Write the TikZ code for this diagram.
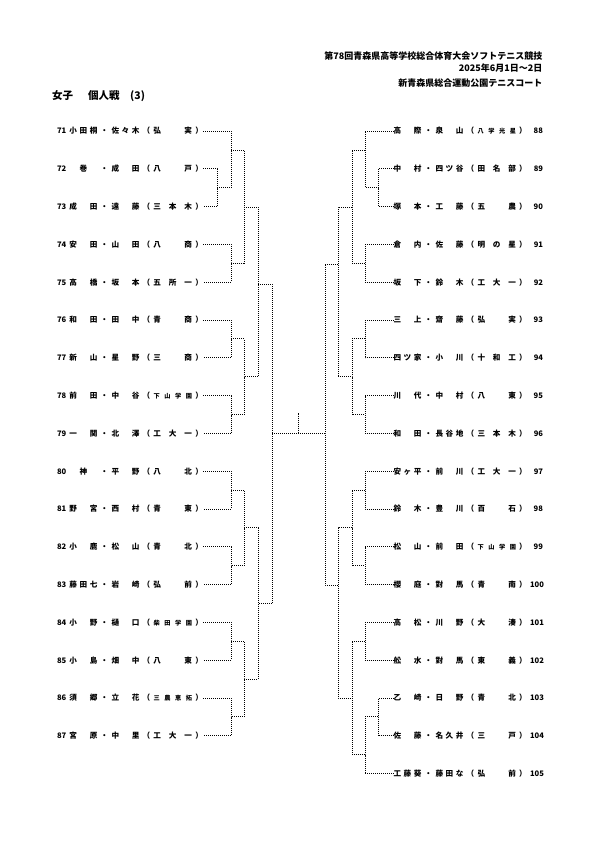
\documentclass[tikz,border=0pt]{standalone}
\usepackage{fontspec}
\setmainfont{Noto Sans CJK JP}
\tikzset{
  br/.style={line width=0.95pt, dash pattern=on 0.95pt off 1.05pt},
  ent/.style={inner sep=0pt, outer sep=0pt, font=\fontsize{7.6}{8}\selectfont\bfseries},
  hdr/.style={inner sep=0pt, anchor=east, font=\fontsize{9}{10}\selectfont\bfseries},
  ttl/.style={inner sep=0pt, anchor=west, font=\fontsize{10.5}{12}\selectfont\bfseries},
}
\def\distB#1#2{#1\ifx#2\relax\else\hfill\expandafter\distB\expandafter#2\fi}
\newcommand\dist[2]{\hbox to #1{\distB#2\relax}}
\newcommand\Nm[1]{\dist{28pt}{#1}}
\newcommand\Ne[1]{\hbox to 28pt{\hfil#1\hfil}}
\newcommand\Sc[1]{\dist{38.5pt}{#1}}
\newcommand\Sf[1]{{\fontsize{6.2}{6.5}\selectfont\dist{38.5pt}{#1}}}
\newcommand\Lrow[6]{\node[ent, anchor=west] (#1) at (57,#2) {\hbox to 12.5pt{#3\hfil}#4\hbox to 14pt{\hfil・\hfil}#5\hbox to 14pt{\hfil（\hfil}#6\hbox to 11pt{\hfil）}};}
\newcommand\Rrow[6]{\node[ent, anchor=west] (#1) at (393.5,#2) {#4\hbox to 14pt{\hfil・\hfil}#5\hbox to 14pt{\hfil（\hfil}#6\hbox to 14pt{\hfil）\hfil}\hbox to 13pt{\hfil#3}};}
\begin{document}
\begin{tikzpicture}[x=1pt,y=-1pt]
\useasboundingbox (0,0) rectangle (595,842);
% header
\node[hdr] (h1) at (542.5,55.7) {第78回青森県高等学校総合体育大会ソフトテニス競技};
\node[hdr] (h2) at (542.5,68.5) {2025年6月1日～2日};
\node[hdr] (h3) at (542.5,82.7) {新青森県総合運動公園テニスコート};
\node[ttl] (t1) at (52,96) {女子};
\node[ttl] (t2) at (88,96) {個人戦};
\node[ttl] (t3) at (130,96) {(3)};
% left entries
\Lrow{p71}{131.0}{71}{\Nm{小田桐}}{\Nm{佐々木}}{\Sc{弘実}}
\Lrow{p72}{168.8}{72}{\Ne{巻}}{\Nm{成田}}{\Sc{八戸}}
\Lrow{p73}{206.6}{73}{\Nm{成田}}{\Nm{遠藤}}{\Sc{三本木}}
\Lrow{p74}{244.4}{74}{\Nm{安田}}{\Nm{山田}}{\Sc{八商}}
\Lrow{p75}{282.2}{75}{\Nm{高橋}}{\Nm{坂本}}{\Sc{五所一}}
\Lrow{p76}{320.0}{76}{\Nm{和田}}{\Nm{田中}}{\Sc{青商}}
\Lrow{p77}{357.8}{77}{\Nm{新山}}{\Nm{星野}}{\Sc{三商}}
\Lrow{p78}{395.6}{78}{\Nm{前田}}{\Nm{中谷}}{\Sf{下山学園}}
\Lrow{p79}{433.4}{79}{\Nm{一関}}{\Nm{北澤}}{\Sc{工大一}}
\Lrow{p80}{471.2}{80}{\Ne{神}}{\Nm{平野}}{\Sc{八北}}
\Lrow{p81}{509.0}{81}{\Nm{野宮}}{\Nm{西村}}{\Sc{青東}}
\Lrow{p82}{546.8}{82}{\Nm{小鹿}}{\Nm{松山}}{\Sc{青北}}
\Lrow{p83}{584.6}{83}{\Nm{藤田七}}{\Nm{岩崎}}{\Sc{弘前}}
\Lrow{p84}{622.4}{84}{\Nm{小野}}{\Nm{樋口}}{\Sf{柴田学園}}
\Lrow{p85}{660.2}{85}{\Nm{小島}}{\Nm{畑中}}{\Sc{八東}}
\Lrow{p86}{698.0}{86}{\Nm{須郷}}{\Nm{立花}}{\Sf{三農恵拓}}
\Lrow{p87}{735.8}{87}{\Nm{宮原}}{\Nm{中里}}{\Sc{工大一}}
% right entries
\Rrow{p88}{131.0}{88}{\Nm{高際}}{\Nm{泉山}}{\Sf{八学光星}}
\Rrow{p89}{168.8}{89}{\Nm{中村}}{\Nm{四ツ谷}}{\Sc{田名部}}
\Rrow{p90}{206.6}{90}{\Nm{塚本}}{\Nm{工藤}}{\Sc{五農}}
\Rrow{p91}{244.4}{91}{\Nm{倉内}}{\Nm{佐藤}}{\Sc{明の星}}
\Rrow{p92}{282.2}{92}{\Nm{坂下}}{\Nm{鈴木}}{\Sc{工大一}}
\Rrow{p93}{320.0}{93}{\Nm{三上}}{\Nm{齋藤}}{\Sc{弘実}}
\Rrow{p94}{357.8}{94}{\Nm{四ツ家}}{\Nm{小川}}{\Sc{十和工}}
\Rrow{p95}{395.6}{95}{\Nm{川代}}{\Nm{中村}}{\Sc{八東}}
\Rrow{p96}{433.4}{96}{\Nm{和田}}{\Nm{長谷地}}{\Sc{三本木}}
\Rrow{p97}{471.2}{97}{\Nm{安ヶ平}}{\Nm{前川}}{\Sc{工大一}}
\Rrow{p98}{509.0}{98}{\Nm{鈴木}}{\Nm{豊川}}{\Sc{百石}}
\Rrow{p99}{546.8}{99}{\Nm{松山}}{\Nm{前田}}{\Sf{下山学園}}
\Rrow{p100}{584.6}{100}{\Nm{櫻庭}}{\Nm{對馬}}{\Sc{青南}}
\Rrow{p101}{622.4}{101}{\Nm{高松}}{\Nm{川野}}{\Sc{大湊}}
\Rrow{p102}{660.2}{102}{\Nm{舩水}}{\Nm{對馬}}{\Sc{東義}}
\Rrow{p103}{698.0}{103}{\Nm{乙崎}}{\Nm{日野}}{\Sc{青北}}
\Rrow{p104}{735.8}{104}{\Nm{佐藤}}{\Nm{名久井}}{\Sc{三戸}}
\Rrow{p105}{773.6}{105}{\Nm{工藤葵}}{\Nm{藤田な}}{\Sc{弘前}}
% left joints
\coordinate (j72) at (217,187.7);
\coordinate (j71) at (231,150.0);
\coordinate (j74) at (231,263.3);
\coordinate (ja)  at (244,207.0);
\coordinate (j76) at (231,338.9);
\coordinate (j78) at (231,414.5);
\coordinate (jb)  at (244,376.7);
\coordinate (jc)  at (258,284.0);
\coordinate (j80) at (231,490.1);
\coordinate (j82) at (231,565.7);
\coordinate (jd)  at (244,527.9);
\coordinate (j84) at (231,641.3);
\coordinate (j86) at (231,716.9);
\coordinate (je)  at (244,679.1);
\coordinate (jf)  at (258,603.5);
\coordinate (jL)  at (272,433.4);
% right joints
\coordinate (k89) at (378,187.7);
\coordinate (k88) at (365,150.0);
\coordinate (k91) at (365,263.3);
\coordinate (ka)  at (352,207.0);
\coordinate (k93) at (365,338.9);
\coordinate (k95) at (365,414.5);
\coordinate (kb)  at (352,376.7);
\coordinate (kc)  at (338,264.0);
\coordinate (k97) at (365,490.1);
\coordinate (k99) at (365,565.7);
\coordinate (kd)  at (352,527.9);
\coordinate (k101) at (365,641.3);
\coordinate (k103) at (378,716.9);
\coordinate (k105) at (365,754.7);
\coordinate (ke)  at (352,698.0);
\coordinate (kf)  at (338,585.0);
\coordinate (kR)  at (325,433.4);
\coordinate (cm)  at (298.5,433.4);
\coordinate (ct)  at (298.5,413.0);
% left bracket
\draw[br] (p72.east) -| (j72) |- (p73.east);
\draw[br] (p71.east) -| (j71) |- (j72);
\draw[br] (p74.east) -| (j74) |- (p75.east);
\draw[br] (j71) -| (ja) |- (j74);
\draw[br] (p76.east) -| (j76) |- (p77.east);
\draw[br] (p78.east) -| (j78) |- (p79.east);
\draw[br] (j76) -| (jb) |- (j78);
\draw[br] (ja) -| (jc) |- (jb);
\draw[br] (p80.east) -| (j80) |- (p81.east);
\draw[br] (p82.east) -| (j82) |- (p83.east);
\draw[br] (j80) -| (jd) |- (j82);
\draw[br] (p84.east) -| (j84) |- (p85.east);
\draw[br] (p86.east) -| (j86) |- (p87.east);
\draw[br] (j84) -| (je) |- (j86);
\draw[br] (jd) -| (jf) |- (je);
\draw[br] (jc) -| (jL) |- (jf);
% right bracket
\draw[br] (p89.west) -| (k89) |- (p90.west);
\draw[br] (p88.west) -| (k88) |- (k89);
\draw[br] (p91.west) -| (k91) |- (p92.west);
\draw[br] (k88) -| (ka) |- (k91);
\draw[br] (p93.west) -| (k93) |- (p94.west);
\draw[br] (p95.west) -| (k95) |- (p96.west);
\draw[br] (k93) -| (kb) |- (k95);
\draw[br] (ka) -| (kc) |- (kb);
\draw[br] (p97.west) -| (k97) |- (p98.west);
\draw[br] (p99.west) -| (k99) |- (p100.west);
\draw[br] (k97) -| (kd) |- (k99);
\draw[br] (p101.west) -| (k101) |- (p102.west);
\draw[br] (p103.west) -| (k103) |- (p104.west);
\draw[br] (k103) -| (k105) |- (p105.west);
\draw[br] (k101) -| (ke) |- (k105);
\draw[br] (kd) -| (kf) |- (ke);
\draw[br] (kc) -| (kR) |- (kf);
% final
\draw[br] (jL) -- (kR);
\draw[br] (cm) -- (ct);
\end{tikzpicture}
\end{document}
